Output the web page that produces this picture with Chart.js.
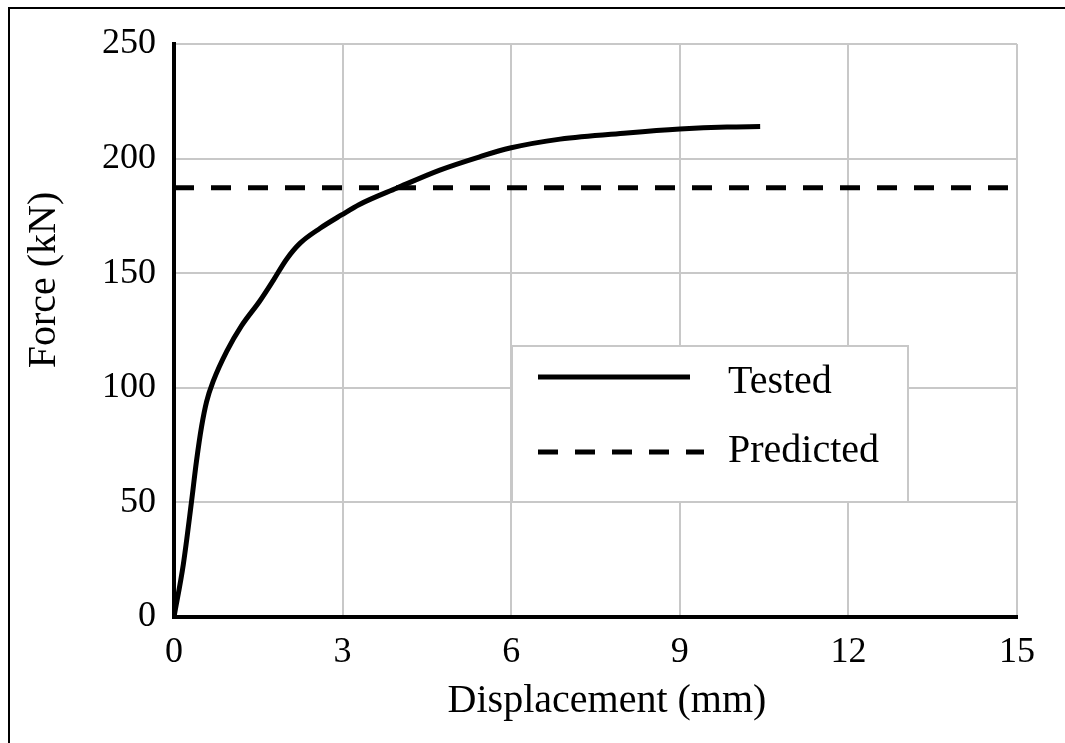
<!DOCTYPE html>
<html>
<head>
<meta charset="utf-8">
<script src="https://cdn.jsdelivr.net/npm/chart.js@4/dist/chart.umd.min.js"></script>
<style>
  html, body { margin: 0; padding: 0; background: #fff; }
  #wrap { position: relative; width: 1065px; height: 743px; overflow: hidden; }
  #frame { position: absolute; left: 8px; top: 7px; width: 1070px; height: 760px;
           border-left: 2px solid #000; border-top: 2px solid #000; pointer-events: none; }
  canvas { position: absolute; left: 0; top: 0; }
</style>
</head>
<body>
<div id="wrap">
  <canvas id="c" width="1065" height="743"></canvas>
  <div id="frame"></div>
</div>
<script>
// ---- data ----
const seriesNames = ["Tested", "Predicted"];
const testedDisp  = [0, 0.166, 0.31, 0.40, 0.49, 0.58, 0.70, 0.94, 1.2, 1.53, 1.77, 2.0, 2.24, 2.6, 2.98, 3.3, 3.97, 4.73, 5.44, 5.98, 6.87, 8.06, 9.0, 9.84, 10.43];
const testedForce = [0, 23, 50, 68, 83, 94, 103, 116, 127, 138, 147, 156, 163, 169.6, 175.4, 180, 187.2, 195, 200.8, 204.6, 208.5, 211.2, 212.9, 213.8, 214];
const predictedDisp  = [0, 15];
const predictedForce = [187.3, 187.3];
const xTicks = [0, 3, 6, 9, 12, 15];
const yTicks = [0, 50, 100, 150, 200, 250];
const xTitle = "Displacement (mm)";
const yTitle = "Force (kN)";

const FONT = "'Liberation Serif', 'Times New Roman', serif";
const DASH = [20, 17];

const toPts = (xs, ys) => xs.map((x, i) => ({ x: x, y: ys[i] }));

const decorPlugin = {
  id: 'decor',
  afterDraw(chart) {
    const ctx = chart.ctx;
    ctx.save();
    // axis titles
    ctx.fillStyle = '#000';
    ctx.font = '40px ' + FONT;
    ctx.textAlign = 'center';
    ctx.textBaseline = 'alphabetic';
    ctx.fillText(xTitle, 607, 712);
    ctx.save();
    ctx.translate(55, 280);
    ctx.rotate(-Math.PI / 2);
    ctx.fillText(yTitle, 0, 0);
    ctx.restore();

    // legend box
    const x0 = 512, y0 = 346, w = 396, h = 156;
    ctx.fillStyle = '#fff';
    ctx.fillRect(x0, y0, w, h);
    ctx.strokeStyle = '#c8c8c8';
    ctx.lineWidth = 2;
    ctx.strokeRect(x0, y0, w, h);
    const ds = chart.data.datasets;
    const rows = [{ y: 377, x2: 690, ty: 393 }, { y: 452, x2: 704, ty: 462 }];
    ds.forEach((d, i) => {
      const r = rows[i];
      ctx.beginPath();
      ctx.setLineDash(d.borderDash || []);
      ctx.lineWidth = d.borderWidth;
      ctx.strokeStyle = d.borderColor;
      ctx.moveTo(538, r.y);
      ctx.lineTo(r.x2, r.y);
      ctx.stroke();
      ctx.setLineDash([]);
      ctx.fillStyle = '#000';
      ctx.font = '40px ' + FONT;
      ctx.textAlign = 'left';
      ctx.fillText(d.label, 728, r.ty);
    });
    ctx.restore();
  }
};

new Chart(document.getElementById('c'), {
  type: 'line',
  data: {
    datasets: [
      {
        label: seriesNames[0],
        data: toPts(testedDisp, testedForce),
        borderColor: '#000',
        borderWidth: 5,
        pointRadius: 0,
        cubicInterpolationMode: 'monotone',
        fill: false
      },
      {
        label: seriesNames[1],
        data: toPts(predictedDisp, predictedForce),
        borderColor: '#000',
        borderWidth: 5,
        borderDash: DASH,
        borderCapStyle: 'butt',
        pointRadius: 0,
        fill: false
      }
    ]
  },
  options: {
    responsive: false,
    animation: false,
    layout: { padding: { left: 0, right: 48, top: 44, bottom: 0 } },
    plugins: { legend: { display: false }, tooltip: { enabled: false } },
    scales: {
      x: {
        type: 'linear',
        min: 0, max: 15,
        afterBuildTicks: (s) => { s.ticks = xTicks.map(v => ({ value: v })); },
        afterFit: (s) => { s.height = 126; },
        grid: { color: '#c8c8c8', lineWidth: 2, drawTicks: false },
        border: { color: '#000', width: 4 },
        ticks: { color: '#000', font: { family: FONT, size: 36 }, padding: 14, maxRotation: 0 }
      },
      y: {
        type: 'linear',
        min: 0, max: 250,
        afterBuildTicks: (s) => { s.ticks = yTicks.map(v => ({ value: v })); },
        afterFit: (s) => { s.width = 174; },
        grid: { color: '#c8c8c8', lineWidth: 2, drawTicks: false },
        border: { color: '#000', width: 4 },
        ticks: { color: '#000', font: { family: FONT, size: 36 }, padding: 18 }
      }
    }
  },
  plugins: [decorPlugin]
});
</script>
</body>
</html>
